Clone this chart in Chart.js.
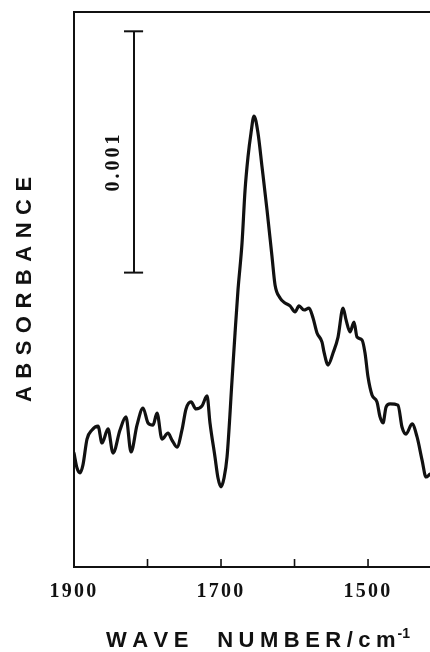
<!DOCTYPE html>
<html>
<head>
<meta charset="utf-8">
<script src="https://cdn.jsdelivr.net/npm/chart.js@4/dist/chart.umd.min.js"></script>
<style>
html,body{margin:0;padding:0;background:#fff;}
canvas{display:block;}
</style>
</head>
<body>
<canvas id="c" width="430" height="652"></canvas>
<script>
// ---- data (absorbance in units of 10^-3) ----
const wavenumber = [1900, 1895.9, 1891.8, 1887.8, 1882.3, 1875.5, 1867.3, 1861.9, 1853.7, 1846.9,
  1837.4, 1829.3, 1822.4, 1814.3, 1806.1, 1799.3, 1792.5, 1787.1, 1780.3, 1772.1,
  1766.7, 1759.9, 1753.1, 1747.6, 1740.8, 1734.0, 1725.9, 1719.0, 1715.0, 1708.2,
  1704.1, 1700.0, 1695.9, 1691.8, 1685.0, 1680.9, 1676.9, 1671.4, 1667.3, 1663.3,
  1659.2, 1655.1, 1649.7, 1644.2, 1637.4, 1630.6, 1626.5, 1619.7, 1612.9, 1606.1,
  1599.3, 1593.9, 1587.1, 1580.3, 1574.8, 1569.4, 1562.6, 1559.9, 1554.4, 1547.6,
  1540.8, 1534.0, 1529.9, 1524.5, 1519.1, 1515.0, 1508.2, 1504.1, 1500.0, 1494.6,
  1487.8, 1483.7, 1479.6, 1475.5, 1470.1, 1459.2, 1453.8, 1448.3, 1440.1, 1433.3,
  1426.5, 1421.1, 1415.7];
const absorbance = [0.472, 0.410, 0.390, 0.423, 0.530, 0.568, 0.584, 0.514, 0.572, 0.472,
  0.568, 0.622, 0.477, 0.588, 0.659, 0.597, 0.588, 0.638, 0.530, 0.555,
  0.526, 0.497, 0.568, 0.655, 0.684, 0.655, 0.667, 0.709, 0.597, 0.456,
  0.369, 0.332, 0.369, 0.456, 0.775, 0.970, 1.148, 1.343, 1.562, 1.699,
  1.799, 1.869, 1.799, 1.658, 1.479, 1.285, 1.169, 1.115, 1.094, 1.082,
  1.057, 1.082, 1.065, 1.073, 1.032, 0.970, 0.932, 0.891, 0.837, 0.887,
  0.953, 1.073, 1.024, 0.974, 1.015, 0.953, 0.941, 0.887, 0.787, 0.713,
  0.684, 0.622, 0.597, 0.663, 0.676, 0.671, 0.580, 0.551, 0.593, 0.539,
  0.443, 0.373, 0.385];
const tickLabels = ['1900', '1700', '1500'];
const xRange = [1415.7, 1900];
const yRange = [0, 2.3];
const scaleBarWavenumber = 1818.4;
const scaleBarCapWavenumbers = [1832, 1806];
const scaleBarAbsorbance = [1.22, 2.22];
const scaleBarLabel = '0.001';
const xTitle = 'WAVE  NUMBER/cm';
const xTitleSup = '-1';
const yTitle = 'ABSORBANCE';

// ---- build ----
const ink = '#111';
const spectrum = wavenumber.map((w, i) => ({x: w, y: absorbance[i]}));
const barLine = scaleBarAbsorbance.map(v => ({x: scaleBarWavenumber, y: v}));
const capTop = scaleBarCapWavenumbers.map(w => ({x: w, y: scaleBarAbsorbance[1]}));
const capBottom = scaleBarCapWavenumbers.map(w => ({x: w, y: scaleBarAbsorbance[0]}));

function spacedText(ctx, text, x, y, spacing, align) {
  let widths = [...text].map(ch => ctx.measureText(ch).width);
  let total = widths.reduce((a, b) => a + b, 0) + spacing * (widths.length - 1);
  let cx = align === 'center' ? x - total / 2 : x;
  ctx.textAlign = 'left';
  [...text].forEach((ch, i) => { ctx.fillText(ch, cx, y); cx += widths[i] + spacing; });
  return total;
}
function spacedWidth(ctx, text, spacing) {
  return [...text].reduce((a, ch) => a + ctx.measureText(ch).width, 0) + spacing * ([...text].length - 1);
}

const decor = {
  id: 'decor',
  beforeDraw(chart) {
    if ('letterSpacing' in chart.ctx) chart.ctx.letterSpacing = '2.3px';
  },
  afterDraw(chart) {
    const ctx = chart.ctx;
    const xs = chart.scales.x;
    const area = chart.chartArea;
    ctx.save();
    if ('letterSpacing' in ctx) ctx.letterSpacing = '0px';
    // inward ticks
    ctx.strokeStyle = ink;
    ctx.lineWidth = 1.6;
    xs.ticks.forEach(t => {
      const px = xs.getPixelForValue(t.value);
      if (px > area.left + 2 && px < area.right - 1) {
        ctx.beginPath();
        ctx.moveTo(px, area.bottom);
        ctx.lineTo(px, area.bottom - 8);
        ctx.stroke();
      }
    });
    ctx.fillStyle = ink;
    ctx.textBaseline = 'middle';
    // y title
    ctx.save();
    ctx.translate(25, (area.top + area.bottom) / 2);
    ctx.rotate(-Math.PI / 2);
    ctx.font = 'bold 22px "Liberation Sans", Arial, sans-serif';
    spacedText(ctx, yTitle, 0, 0, 7.5, 'center');
    ctx.restore();
    // scale bar label
    const ys = chart.scales.y;
    const barMid = (ys.getPixelForValue(scaleBarAbsorbance[0]) + ys.getPixelForValue(scaleBarAbsorbance[1])) / 2;
    ctx.save();
    ctx.translate(xs.getPixelForValue(scaleBarWavenumber) - 20, barMid + 11);
    ctx.rotate(-Math.PI / 2);
    ctx.font = 'bold 20px "Liberation Serif", "Times New Roman", serif';
    spacedText(ctx, scaleBarLabel, 0, 0, 3, 'center');
    ctx.restore();
    // x title
    ctx.textBaseline = 'alphabetic';
    ctx.font = 'bold 22px "Liberation Sans", Arial, sans-serif';
    const mainW = spacedWidth(ctx, xTitle, 5.5);
    ctx.font = 'bold 14px "Liberation Sans", Arial, sans-serif';
    const supW = spacedWidth(ctx, xTitleSup, 0);
    const total = mainW + 2 + supW;
    const startX = 258 - total / 2;
    const baseY = 647;
    ctx.font = 'bold 22px "Liberation Sans", Arial, sans-serif';
    spacedText(ctx, xTitle, startX, baseY, 5.5, 'left');
    ctx.font = 'bold 14px "Liberation Sans", Arial, sans-serif';
    spacedText(ctx, xTitleSup, startX + mainW + 2, baseY - 9, 0, 'left');
    ctx.restore();
  }
};

new Chart(document.getElementById('c'), {
  type: 'line',
  data: {
    datasets: [
      {data: spectrum, borderColor: ink, borderWidth: 3.2, pointRadius: 0, cubicInterpolationMode: 'monotone', fill: false, borderJoinStyle: 'round', borderCapStyle: 'round'},
      {data: barLine, borderColor: ink, borderWidth: 2, pointRadius: 0, tension: 0},
      {data: capTop, borderColor: ink, borderWidth: 2, pointRadius: 0, tension: 0},
      {data: capBottom, borderColor: ink, borderWidth: 2, pointRadius: 0, tension: 0}
    ]
  },
  options: {
    responsive: false,
    animation: false,
    devicePixelRatio: 1,
    events: [],
    layout: {padding: 0},
    plugins: {legend: {display: false}, tooltip: {enabled: false}, title: {display: false}},
    scales: {
      x: {
        type: 'linear', position: 'bottom', reverse: true,
        min: xRange[0], max: xRange[1],
        grid: {display: true, drawOnChartArea: false, drawTicks: false},
        border: {display: true, color: ink, width: 2},
        ticks: {
          stepSize: 100, includeBounds: false, autoSkip: false, maxRotation: 0, padding: 13,
          color: ink,
          font: {family: '"Liberation Serif", "Times New Roman", serif', size: 20, weight: 'bold'},
          callback: v => tickLabels.includes(String(v)) ? String(v) : ''
        },
        afterFit: s => { s.height = 85; }
      },
      xTop: {
        type: 'linear', position: 'top', reverse: true,
        min: xRange[0], max: xRange[1], display: true,
        grid: {display: false, drawTicks: false},
        border: {display: true, color: ink, width: 2},
        ticks: {display: false},
        afterFit: s => { s.height = 12; }
      },
      y: {
        type: 'linear', position: 'left',
        min: yRange[0], max: yRange[1], display: true,
        grid: {display: false, drawTicks: false},
        border: {display: true, color: ink, width: 2},
        ticks: {display: false},
        afterFit: s => { s.width = 74; }
      }
    }
  },
  plugins: [decor]
});
</script>
</body>
</html>
